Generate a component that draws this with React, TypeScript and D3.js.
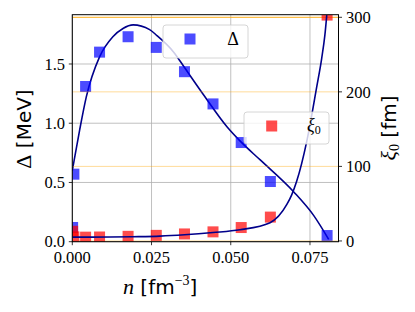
import React from "react";
import * as d3 from "d3";

// ---- data ----
const nPoints = [0.0001, 0.0005, 0.0042, 0.0086, 0.0176, 0.0265, 0.0354, 0.0444, 0.0533, 0.0625, 0.0804];
const deltaPoints = [0.12, 0.57, 1.31, 1.6, 1.73, 1.64, 1.435, 1.163, 0.837, 0.508, 0.052];
const xiPoints = [13, 5.5, 5.1, 5.3, 6.2, 7.5, 9.4, 12.2, 18, 32, 303];

const nDeltaCurve = [0, 0.0002, 0.0023, 0.0044, 0.0086, 0.0128, 0.016, 0.0192, 0.0244, 0.0267, 0.032, 0.0354, 0.0414, 0.0488, 0.0533, 0.0593, 0.0699, 0.0762, 0.0809];
const deltaCurve = [0.6, 0.63, 0.94, 1.22, 1.56, 1.73, 1.8, 1.83, 1.79, 1.74, 1.6, 1.47, 1.24, 0.97, 0.84, 0.69, 0.42, 0.22, 0.02];

const nXiCurve = [0, 0.006, 0.012, 0.019, 0.0277, 0.0354, 0.0444, 0.0529, 0.0624, 0.0677, 0.0692, 0.0708, 0.074, 0.0771, 0.0787, 0.0797, 0.0803];
const xiCurve = [5.2, 5.1, 5.3, 5.7, 6.5, 8.3, 11.3, 15, 24.5, 49, 61.5, 80, 134, 206, 245, 276, 303];

const xTicks = [0, 0.025, 0.05, 0.075];
const xTickLabels = ["0.000", "0.025", "0.050", "0.075"];
const yLeftTicks = [0, 0.5, 1.0, 1.5];
const yLeftTickLabels = ["0.0", "0.5", "1.0", "1.5"];
const yRightTicks = [0, 100, 200, 300];
const yRightTickLabels = ["0", "100", "200", "300"];

const W = 415, H = 312;
const L = 72.3, R = 338.5, T = 14.7, B = 241.7;
const serif = "'Liberation Serif', 'DejaVu Serif', serif";
const sans = "'DejaVu Sans', sans-serif";
const lineColor = "#00008b";
const MS = 11;

export default function App() {
  const x = d3.scaleLinear().domain([0, 0.084]).range([L, R]);
  const yL = d3.scaleLinear().domain([0, 1.916]).range([B, T]);
  const yR = d3.scaleLinear().domain([-1, 303.5]).range([B, T]);

  const deltaLine = d3
    .line<number>()
    .x((_, i) => x(nDeltaCurve[i]))
    .y((d) => yL(d))
    .curve(d3.curveMonotoneX)(deltaCurve) as string;
  const xiLine = d3
    .line<number>()
    .x((_, i) => x(nXiCurve[i]))
    .y((d) => yR(d))
    .curve(d3.curveMonotoneX)(xiCurve) as string;

  return (
    <svg width={W} height={H} style={{ position: "absolute", left: 0, top: 0, background: "#fff" }}>
      <defs>
        <clipPath id="plot">
          <rect x={L} y={T} width={R - L} height={B - T} />
        </clipPath>
      </defs>
      {/* grid */}
      {xTicks.map((t, i) => (
        <line key={"gx" + i} x1={x(t)} x2={x(t)} y1={T} y2={B} stroke="#b0b0b0" strokeWidth={0.8} />
      ))}
      {yLeftTicks.map((t, i) => (
        <line key={"gy" + i} x1={L} x2={R} y1={yL(t)} y2={yL(t)} stroke="#b0b0b0" strokeWidth={0.8} />
      ))}
      {/* left axis contents */}
      <g clipPath="url(#plot)">
        <path d={deltaLine} fill="none" stroke={lineColor} strokeWidth={1.6} />
        {deltaPoints.map((d, i) => (
          <rect key={"b" + i} x={x(nPoints[i]) - MS / 2} y={yL(d) - MS / 2} width={MS} height={MS} fill="#0000ff" fillOpacity={0.7} />
        ))}
      </g>
      {/* legend 1 */}
      <g>
        <rect x={163} y={25} width={85} height={33} rx={3} fill="#fff" fillOpacity={0.8} stroke="#cccccc" strokeWidth={0.8} />
        <rect x={190 - MS / 2} y={39 - MS / 2} width={MS} height={MS} fill="#0000ff" fillOpacity={0.7} />
        <text x={233} y={45} textAnchor="middle" fontFamily={serif} fontSize={18}>Δ</text>
      </g>
      {/* right axis grid */}
      {yRightTicks.map((t, i) => (
        <line key={"gr" + i} x1={L} x2={R} y1={yR(t)} y2={yR(t)} stroke="orange" strokeOpacity={t === 300 ? 0.9 : 0.4} strokeWidth={1} />
      ))}
      <g clipPath="url(#plot)">
        {xiPoints.map((d, i) => (
          <rect key={"r" + i} x={x(nPoints[i]) - MS / 2} y={yR(d) - MS / 2} width={MS} height={MS} fill="#ff0000" fillOpacity={0.7} />
        ))}
        <path d={xiLine} fill="none" stroke={lineColor} strokeWidth={1.6} />
      </g>
      {/* legend 2 */}
      <g>
        <rect x={244} y={112} width={85} height={32} rx={3} fill="#fff" fillOpacity={0.8} stroke="#cccccc" strokeWidth={0.8} />
        <rect x={271.7 - MS / 2} y={126 - MS / 2} width={MS} height={MS} fill="#ff0000" fillOpacity={0.7} />
        <text x={307} y={131} fontFamily={serif} fontSize={18}>
          <tspan fontStyle="italic">ξ</tspan>
          <tspan fontSize={12} dy={3}>0</tspan>
        </text>
      </g>
      {/* spines */}
      <rect x={L} y={T} width={R - L} height={B - T} fill="none" stroke="#000" strokeWidth={1} />
      {/* x ticks */}
      {xTicks.map((t, i) => (
        <g key={"xt" + i}>
          <line x1={x(t)} x2={x(t)} y1={B} y2={B + 3.5} stroke="#000" strokeWidth={0.8} />
          <text x={x(t)} y={263} textAnchor="middle" fontFamily={serif} fontSize={16.5}>{xTickLabels[i]}</text>
        </g>
      ))}
      {yLeftTicks.map((t, i) => (
        <g key={"ylt" + i}>
          <line x1={L - 3.5} x2={L} y1={yL(t)} y2={yL(t)} stroke="#000" strokeWidth={0.8} />
          <text x={65} y={yL(t)} dy="0.35em" textAnchor="end" fontFamily={serif} fontSize={16.5}>{yLeftTickLabels[i]}</text>
        </g>
      ))}
      {yRightTicks.map((t, i) => (
        <g key={"yrt" + i}>
          <line x1={R} x2={R + 3.5} y1={yR(t)} y2={yR(t)} stroke="#000" strokeWidth={0.8} />
          <text x={346} y={yR(t)} dy="0.35em" textAnchor="start" fontFamily={serif} fontSize={16.5}>{yRightTickLabels[i]}</text>
        </g>
      ))}
      {/* axis labels */}
      <text transform="translate(31,129) rotate(-90)" textAnchor="middle" fontSize={20}>
        <tspan fontFamily={serif} fontSize={22}>Δ</tspan>
        <tspan fontFamily={sans}> [MeV]</tspan>
      </text>
      <text x={123} y={294} fontSize={20}>
        <tspan fontFamily={serif} fontStyle="italic" fontSize={22}>n</tspan>
        <tspan fontFamily={sans}> [fm</tspan>
        <tspan fontFamily={serif} fontSize={14} dy={-9}>−3</tspan>
        <tspan fontFamily={sans} dy={9}>]</tspan>
      </text>
      <text transform="translate(396,128) rotate(-90)" textAnchor="middle" fontSize={20}>
        <tspan fontFamily={serif} fontStyle="italic" fontSize={22}>ξ</tspan>
        <tspan fontFamily={serif} fontSize={14} dy={3}>0</tspan>
        <tspan fontFamily={sans} dy={-3}> [fm]</tspan>
      </text>
    </svg>
  );
}
